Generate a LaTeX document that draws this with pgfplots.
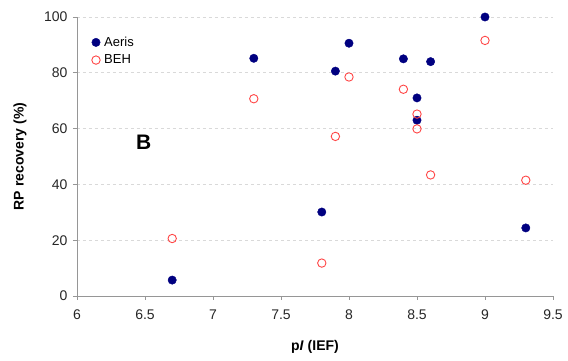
\documentclass[border=0pt]{standalone}
\usepackage{pgfplots}
\pgfplotsset{compat=1.18}
\usepackage{fontspec}
\setmainfont{Liberation Sans}
\definecolor{aeris}{RGB}{0,0,128}
\definecolor{beh}{RGB}{255,70,70}
\definecolor{axgray}{RGB}{150,150,150}
\begin{document}
\begin{tikzpicture}[x=1pt,y=1pt]
\path[use as bounding box] (-77,-65) rectangle (491,296);
\begin{axis}[
  at={(0,0)}, anchor=origin,
  scale only axis, width=476pt, height=279pt,
  xmin=6, xmax=9.5, ymin=0, ymax=100,
  axis x line=bottom, axis y line=left,
  axis line style={axgray, line width=0.8pt, -},
  xtick={6,6.5,...,9.5}, ytick={0,20,...,100},
  xticklabels={6,6.5,7,7.5,8,8.5,9,9.5},
  tick style={axgray, line width=0.8pt},
  major tick length=4pt,
  tick align=outside,
  ymajorgrids, grid style={dash pattern=on 3pt off 3pt, gray!30, line width=0.6pt},
  /pgf/number format/assume math mode=true,
  tick label style={font=\fontsize{14}{16}\selectfont, text=black!85},
  xticklabel style={yshift=-6pt},
  yticklabel style={xshift=-2pt},
  xlabel={\textbf{p\textit{I} (IEF)}},
  ylabel={\textbf{RP recovery (\%)}},
  label style={font=\fontsize{14}{16}\selectfont\bfseries},
  xlabel style={at={(axis description cs:0.5,0)}, anchor=center, yshift=-51pt},
  ylabel style={at={(axis description cs:0,0.5)}, rotate=0, anchor=center, yshift=57pt},
  legend style={draw=none, fill=none, at={(axis cs:6.1,94)}, anchor=north west,
    font=\fontsize{13}{15}\selectfont, row sep=3pt, inner sep=1pt,
    nodes={inner xsep=4pt}},
  legend cell align=left,
  clip=false,
]
\addplot[only marks, mark=*, mark size=4.2pt, mark options={draw=aeris, fill=aeris}]
coordinates {
(6.7,5.7) (7.3,85.2) (7.8,30.1) (7.9,80.6) (8.0,90.6) (8.4,85.0)
(8.5,71.0) (8.5,63.0) (8.6,84.0) (9.0,100.0) (9.3,24.4)
};
\addlegendentry{Aeris}
\addplot[only marks, mark=o, mark size=4.2pt, mark options={draw=beh, line width=0.9pt, fill=white}]
coordinates {
(6.7,20.6) (7.3,70.7) (7.8,11.8) (7.9,57.2) (8.0,78.5) (8.4,74.1)
(8.5,65.2) (8.5,59.9) (8.6,43.4) (9.0,91.6) (9.3,41.5)
};
\addlegendentry{BEH}
\node[font=\fontsize{21}{24}\selectfont\bfseries] at (axis cs:6.49,55) {B};
\end{axis}
\end{tikzpicture}
\end{document}
